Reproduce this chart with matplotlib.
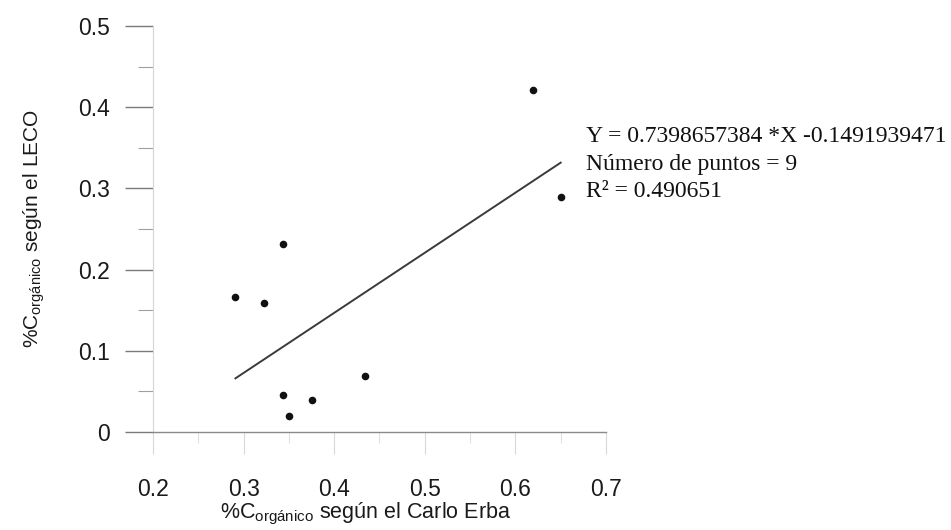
import matplotlib
matplotlib.use('Agg')
import matplotlib.pyplot as plt
from matplotlib.ticker import MultipleLocator

# fuentes: Arial -> Liberation Sans, Times -> Liberation Serif
plt.rcParams['font.family'] = 'Liberation Sans'
plt.rcParams['mathtext.fontset'] = 'custom'
plt.rcParams['mathtext.rm'] = 'Liberation Sans'
plt.rcParams['mathtext.sf'] = 'Liberation Sans'

# ========================================
# datos
# ========================================
carlo_erba = [0.291, 0.322, 0.343, 0.343, 0.350, 0.376, 0.434, 0.619, 0.650]
leco = [0.166, 0.159, 0.232, 0.046, 0.020, 0.039, 0.069, 0.421, 0.290]

pendiente = 0.7398657384
intercepto = -0.1491939471
n_puntos = 9
r2 = 0.490651

x_ticks = [0.2, 0.3, 0.4, 0.5, 0.6, 0.7]
y_ticks = [0, 0.1, 0.2, 0.3, 0.4, 0.5]
x_tick_labels = ['0.2', '0.3', '0.4', '0.5', '0.6', '0.7']
y_tick_labels = ['0', '0.1', '0.2', '0.3', '0.4', '0.5']

# recta de regresion
x_recta = [min(carlo_erba), max(carlo_erba)]
y_recta = [pendiente * x + intercepto for x in x_recta]

fig = plt.figure(figsize=(9.51, 5.30), dpi=100)
ax = fig.add_axes([0.1609, 0.1849, 0.4763, 0.766])

ax.plot(x_recta, y_recta, color='#3a3a3a', linewidth=1.4)
ax.scatter(carlo_erba, leco, s=30, color='#111111', zorder=3, linewidths=0)

ax.set_xlim(0.2, 0.7)
ax.set_ylim(0, 0.5)
ax.set_xticks(x_ticks)
ax.set_xticklabels(x_tick_labels)
ax.set_yticks(y_ticks)
ax.set_yticklabels(y_tick_labels)
ax.xaxis.set_minor_locator(MultipleLocator(0.05))
ax.yaxis.set_minor_locator(MultipleLocator(0.05))

# aspecto de escaneo: ejes y marcas grises
for lado in ['top', 'right']:
    ax.spines[lado].set_visible(False)
ax.spines['bottom'].set_color('#8a8a8a')
ax.spines['bottom'].set_linewidth(1.0)
ax.spines['left'].set_color('#d5d5d5')
ax.spines['left'].set_linewidth(0.8)

ax.tick_params(axis='y', which='major', direction='out', length=20, width=1.0,
               color='#7a7a7a', pad=11, labelsize=16.5, labelcolor='#1a1a1a')
ax.tick_params(axis='y', which='minor', direction='out', length=11, width=0.8,
               color='#a0a0a0')
ax.tick_params(axis='x', which='major', direction='out', length=16, width=0.8,
               color='#d8d8d8', pad=17, labelsize=16.5, labelcolor='#1a1a1a')
ax.tick_params(axis='x', which='minor', direction='out', length=8, width=0.8,
               color='#e0e0e0')

ax.set_xlabel(r'%C$_{\mathsf{orgánico}}$ según el Carlo Erba', fontsize=15.5,
              color='#1a1a1a')
ax.set_ylabel(r'%C$_{\mathsf{orgánico}}$ según el LECO', fontsize=15,
              color='#1a1a1a')
ax.xaxis.set_label_coords(0.47, -0.17)
ax.yaxis.set_label_coords(-0.235, 0.5)

# texto de la regresion
serif = 'Liberation Serif'
fig.text(586 / 951, 1 - 142 / 530, f'Y = {pendiente} *X {intercepto}',
         family=serif, fontsize=17, va='baseline', color='#111111')
fig.text(586 / 951, 1 - 170 / 530, f'Número de puntos = {n_puntos}',
         family=serif, fontsize=17, va='baseline', color='#111111')
fig.text(586 / 951, 1 - 197 / 530, f'R² = {r2}',
         family=serif, fontsize=17, va='baseline', color='#111111')

fig.savefig('out.png', dpi=100)
